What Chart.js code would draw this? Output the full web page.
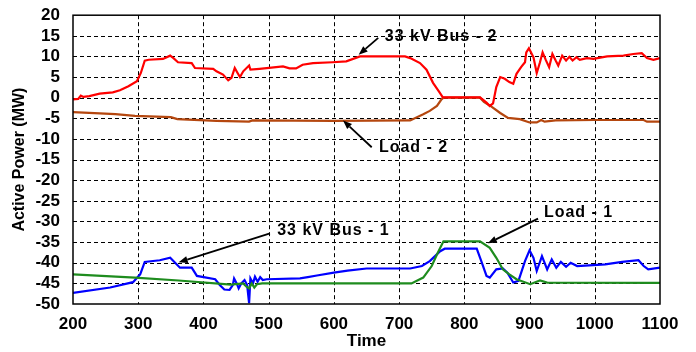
<!DOCTYPE html>
<html>
<head>
<meta charset="utf-8">
<script src="https://cdn.jsdelivr.net/npm/chart.js@4/dist/chart.umd.min.js"></script>
<style>
  html, body { margin: 0; padding: 0; background: #fff; }
  #powerChart { display: block; }
</style>
</head>
<body>
<canvas id="powerChart" width="696" height="352"></canvas>
<script>
// time (s) vs active power (MW), one [time, MW] pair per sample
const busTwo = [
  [200, -0.4], [208, -0.3], [212, 0.5], [216, 0.2], [225, 0.4], [241, 1.0], [261, 1.3],
  [272, 1.8], [285, 2.8], [298, 4.0], [304, 6.0], [310, 9.0], [316, 9.2], [338, 9.4],
  [349, 10.2], [354, 9.6], [361, 8.6], [382, 8.4], [387, 7.2], [415, 7.0], [420, 6.4],
  [430, 5.6], [438, 4.2], [443, 4.8], [448, 7.2], [453, 5.8], [456, 5.0], [461, 6.4],
  [470, 7.8], [472, 6.8], [486, 7.0], [522, 7.6], [532, 7.1], [542, 7.1], [552, 8.0],
  [568, 8.4], [598, 8.6], [619, 8.8], [640, 10.0], [709, 10.0], [717, 9.6], [732, 8.4],
  [742, 6.8], [752, 3.6], [762, 1.3], [767, 0.1], [824, 0.1], [834, -1.2], [839, -2.0],
  [844, -1.4], [849, 2.6], [855, 5.0], [862, 4.6], [869, 3.8], [875, 3.4], [880, 5.8],
  [887, 7.4], [893, 8.6], [895, 11.0], [899, 12.0], [906, 9.8], [911, 6.0], [916, 8.6],
  [920, 11.0], [925, 9.1], [930, 7.4], [935, 10.6], [940, 9.0], [944, 7.8], [950, 10.2],
  [956, 9.0], [961, 9.9], [966, 9.0], [972, 9.8], [977, 9.2], [988, 9.6], [998, 9.4],
  [1019, 10.0], [1044, 10.2], [1059, 10.6], [1072, 10.8], [1080, 9.6], [1090, 9.2], [1100, 9.6]
];

const loadTwo = [
  [200, -3.5], [241, -3.8], [265, -4.0], [295, -4.4], [350, -4.7], [360, -5.2], [420, -5.6],
  [470, -5.8], [475, -5.5], [600, -5.6], [717, -5.5], [737, -4.0], [747, -3.2], [758, -2.0],
  [765, -0.4], [768, 0.0], [824, 0.0], [830, -1.0], [840, -2.0], [855, -3.7], [867, -4.9],
  [885, -5.2], [900, -6.0], [911, -6.0], [918, -5.4], [923, -5.8], [940, -5.5], [1000, -5.4],
  [1075, -5.4], [1080, -5.8], [1100, -5.8]
];

const busOne = [
  [200, -47.3], [257, -46.0], [292, -44.7], [303, -42.8], [310, -39.8], [333, -39.4],
  [349, -38.8], [364, -41.2], [382, -41.2], [390, -43.2], [418, -44.0], [425, -45.4],
  [432, -46.5], [440, -46.6], [445, -45.4], [447, -43.8], [451, -45.0], [454, -46.2],
  [458, -45.0], [463, -44.2], [467, -45.4], [470, -49.8], [472, -43.8], [476, -45.0],
  [479, -43.4], [483, -44.6], [487, -43.5], [491, -44.2], [497, -44.0], [548, -43.8],
  [560, -43.5], [574, -43.1], [600, -42.4], [621, -41.9], [650, -41.4], [717, -41.4],
  [735, -40.8], [747, -39.6], [763, -37.2], [770, -36.6], [819, -36.6], [826, -39.6],
  [834, -43.2], [839, -43.6], [849, -41.6], [859, -41.4], [866, -42.4], [875, -44.8],
  [883, -44.4], [893, -39.6], [900, -37.0], [906, -38.8], [911, -42.0], [919, -38.4],
  [927, -41.6], [934, -39.2], [941, -41.2], [948, -39.8], [956, -41.0], [963, -40.0],
  [973, -40.8], [1016, -40.4], [1042, -39.8], [1067, -39.4], [1075, -40.8], [1082, -41.6],
  [1100, -41.2]
];

const loadOne = [
  [200, -42.8], [295, -43.6], [362, -44.3], [442, -45.3], [461, -45.0], [466, -45.8],
  [470, -46.2], [474, -45.0], [478, -46.0], [482, -45.2], [490, -45.0], [719, -45.0],
  [737, -43.6], [750, -40.8], [758, -38.0], [768, -34.8], [824, -34.8], [839, -36.4],
  [849, -38.8], [859, -41.6], [869, -42.8], [880, -44.0], [901, -45.2], [916, -44.3],
  [927, -44.8], [1100, -44.9]
];

const timeTicks = [200, 300, 400, 500, 600, 700, 800, 900, 1000, 1100];
const powerTicks = [20, 15, 10, 5, 0, -5, -10, -15, -20, -25, -30, -35, -40, -45, -50];

// callouts: label anchor, arrow tail, arrow head (time, MW)
const noteText = ["33 kV Bus - 2", "Load - 2", "33 kV Bus - 1", "Load - 1"];
const noteAt = [[678, 14.7], [669, -12.2], [513, -32.2], [922, -27.9]];
const arrowFrom = [[668, 14.5], [658, -12.0], [502, -32.9], [913, -29.3]];
const arrowTo = [[638, 10.4], [614, -5.5], [362, -39.9], [836, -35.3]];

const FONT = "'Liberation Sans', Arial, sans-serif";

function toPoints(rows) {
  return rows.map(([x, y]) => ({ x, y }));
}

function series(label, rows, color) {
  return {
    label,
    data: toPoints(rows),
    borderColor: color,
    borderWidth: 2.2,
    pointRadius: 0,
    tension: 0,
    fill: false,
  };
}

// dashed grid under the traces, crisp on whole pixels
const dashedGrid = {
  id: "dashedGrid",
  beforeDatasetsDraw(chart) {
    const { ctx, chartArea: a, scales } = chart;
    ctx.save();
    ctx.strokeStyle = "#000";
    ctx.lineWidth = 1;
    ctx.setLineDash([4, 3]);
    timeTicks.slice(1, -1).forEach((t) => {
      const x = Math.round(scales.x.getPixelForValue(t)) + 0.5;
      ctx.beginPath();
      ctx.moveTo(x, a.top);
      ctx.lineTo(x, a.bottom);
      ctx.stroke();
    });
    powerTicks.slice(1, -1).forEach((v) => {
      const y = Math.round(scales.y.getPixelForValue(v)) + 0.5;
      ctx.beginPath();
      ctx.moveTo(a.left, y);
      ctx.lineTo(a.right, y);
      ctx.stroke();
    });
    ctx.restore();
  },
};

const frameAndNotes = {
  id: "frameAndNotes",
  afterDatasetsDraw(chart) {
    const { ctx, chartArea: a, scales } = chart;
    const px = (p) => [scales.x.getPixelForValue(p[0]), scales.y.getPixelForValue(p[1])];

    ctx.save();
    ctx.strokeStyle = "#000";
    ctx.lineWidth = 1.5;
    ctx.strokeRect(a.left, a.top, a.right - a.left, a.bottom - a.top);

    ctx.fillStyle = "#000";
    ctx.font = `bold 16px ${FONT}`;
    ctx.letterSpacing = "1px";
    ctx.textBaseline = "middle";
    ctx.textAlign = "left";
    noteText.forEach((text, i) => {
      const [tx, ty] = px(noteAt[i]);
      ctx.fillText(text, tx, ty);

      const [x0, y0] = px(arrowFrom[i]);
      const [x1, y1] = px(arrowTo[i]);
      const ang = Math.atan2(y1 - y0, x1 - x0);
      const headLen = 9;
      const headHalf = 3.5;
      const bx = x1 - headLen * Math.cos(ang);
      const by = y1 - headLen * Math.sin(ang);
      ctx.lineWidth = 1.8;
      ctx.beginPath();
      ctx.moveTo(x0, y0);
      ctx.lineTo(bx, by);
      ctx.stroke();
      ctx.beginPath();
      ctx.moveTo(x1, y1);
      ctx.lineTo(bx + headHalf * Math.sin(ang), by - headHalf * Math.cos(ang));
      ctx.lineTo(bx - headHalf * Math.sin(ang), by + headHalf * Math.cos(ang));
      ctx.closePath();
      ctx.fill();
    });
    ctx.restore();
  },
};

const tickFont = { family: FONT, size: 17, weight: "bold" };

new Chart(document.getElementById("powerChart"), {
  type: "line",
  data: {
    datasets: [
      series("33 kV Bus - 2", busTwo, "#ff0000"),
      series("Load - 2", loadTwo, "#b5470f"),
      series("Load - 1", loadOne, "#1e8c1e"),
      series("33 kV Bus - 1", busOne, "#0000ff"),
    ],
  },
  options: {
    responsive: false,
    animation: false,
    layout: { padding: { top: 13, right: 36, bottom: 0, left: 0 } },
    plugins: { legend: { display: false }, tooltip: { enabled: false } },
    scales: {
      x: {
        type: "linear",
        min: timeTicks[0],
        max: timeTicks[timeTicks.length - 1],
        afterBuildTicks: (s) => { s.ticks = timeTicks.map((v) => ({ value: v })); },
        afterFit: (s) => { s.height = 48; },
        ticks: {
          color: "#000",
          padding: 2,
          autoSkip: false,
          maxRotation: 0,
          font: tickFont,
          callback: (v) => String(v),
        },
        grid: { display: false },
        border: { display: false },
        title: {
          display: true,
          text: "Time",
          color: "#000",
          padding: { top: 0, bottom: 0 },
          font: tickFont,
        },
      },
      y: {
        min: -50,
        max: 20,
        afterBuildTicks: (s) => { s.ticks = powerTicks.map((v) => ({ value: v })); },
        afterFit: (s) => { s.width = 73; },
        ticks: {
          color: "#000",
          padding: 5,
          autoSkip: false,
          font: tickFont,
          callback: (v) => String(v),
        },
        grid: { display: false },
        border: { display: false },
        title: {
          display: true,
          text: "Active Power (MW)",
          color: "#000",
          padding: { top: 10, bottom: 0 },
          font: { family: FONT, size: 16, weight: "bold" },
        },
      },
    },
  },
  plugins: [dashedGrid, frameAndNotes],
});
</script>
</body>
</html>
